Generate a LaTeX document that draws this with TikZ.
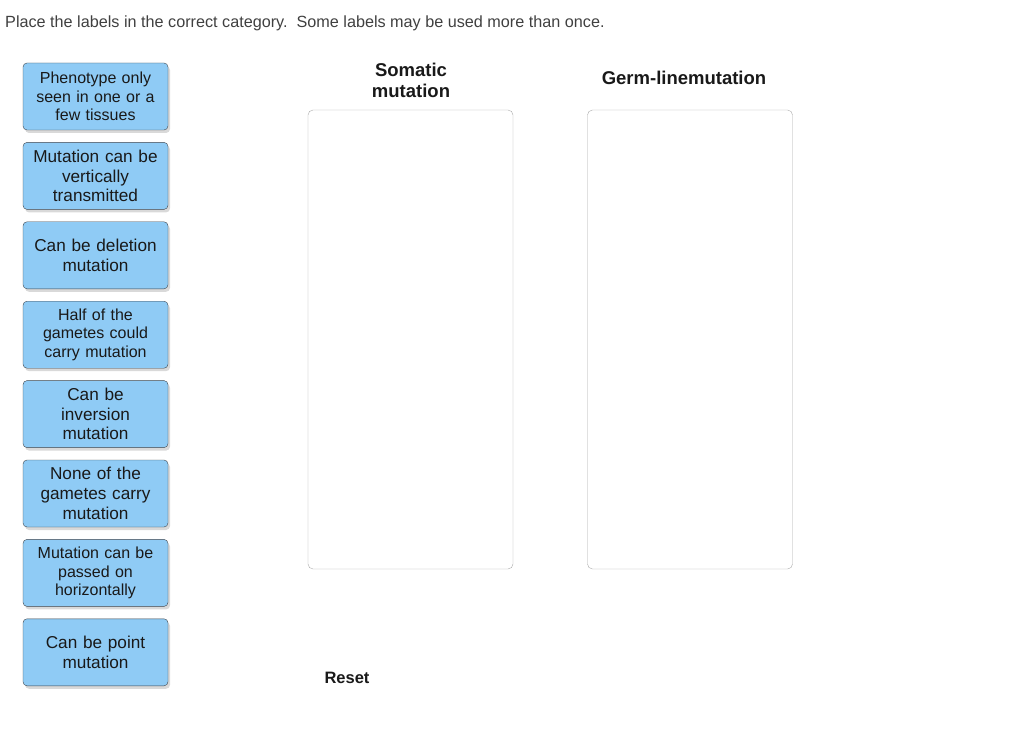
\documentclass[tikz,border=0pt]{standalone}
\usepackage{fontspec}
\setmainfont{Liberation Sans}
\usetikzlibrary{shapes.geometric, arrows, shadows}
\definecolor{labelblue}{HTML}{8FCBF5}
\definecolor{labeledge}{HTML}{3F454B}
\definecolor{zoneedge}{HTML}{ABABAB}
\tikzstyle{label} = [rectangle, rounded corners=4pt, minimum width=145pt, minimum height=67pt, text centered, text width=140pt, inner sep=0pt, draw=labeledge, fill=labelblue, text=black!90, drop shadow={shadow xshift=2pt, shadow yshift=-3pt, opacity=0.3}]
\tikzstyle{small} = [font=\fontsize{16}{18.5}\selectfont]
\tikzstyle{big} = [font=\fontsize{17.2}{19.7}\selectfont]
\tikzstyle{zone} = [rectangle, rounded corners=5pt, minimum width=205pt, minimum height=459pt, draw=zoneedge, fill=white]
\tikzstyle{heading} = [text centered, font=\fontsize{18.5}{21}\selectfont\bfseries, text=black!90]

\begin{document}
\begin{tikzpicture}[x=1pt, y=-1pt, node distance=79.4pt]
\useasboundingbox (0,0) rectangle (1024,751);

%% NODES

\node (title) [anchor=base west, font=\fontsize{16.2}{18}\selectfont, text=black!75, inner sep=0pt] at (5,27.5) {Place the labels in the correct category.\ \ Some labels may be used more than once.};

\node (l1) [label, small] at (95.5,96.5) {Phenotype only\\seen in one or a\\few tissues};
\node (l2) [label, big, below of=l1] {Mutation can be\\vertically\\transmitted};
\node (l3) [label, big, below of=l2] {Can be deletion\\mutation};
\node (l4) [label, small, below of=l3] {Half of the\\gametes could\\carry mutation};
\node (l5) [label, big, below of=l4] {Can be\\inversion\\mutation};
\node (l6) [label, big, below of=l5] {None of the\\gametes carry\\mutation};
\node (l7) [label, small, below of=l6] {Mutation can be\\passed on\\horizontally};
\node (l8) [label, big, below of=l7] {Can be point\\mutation};

\node (somatic) [zone] at (410.5,339.5) {};
\node (germline) [zone] at (690,339.5) {};
\node (somatic_label) [heading, align=center] at (411,80.5) {Somatic\\mutation};
\node (germline_label) [heading] at (684,77.5) {Germ-linemutation};

\node (reset) [font=\fontsize{16.5}{18}\selectfont\bfseries, text=black!90] at (347,678) {Reset};

\end{tikzpicture}
\end{document}
